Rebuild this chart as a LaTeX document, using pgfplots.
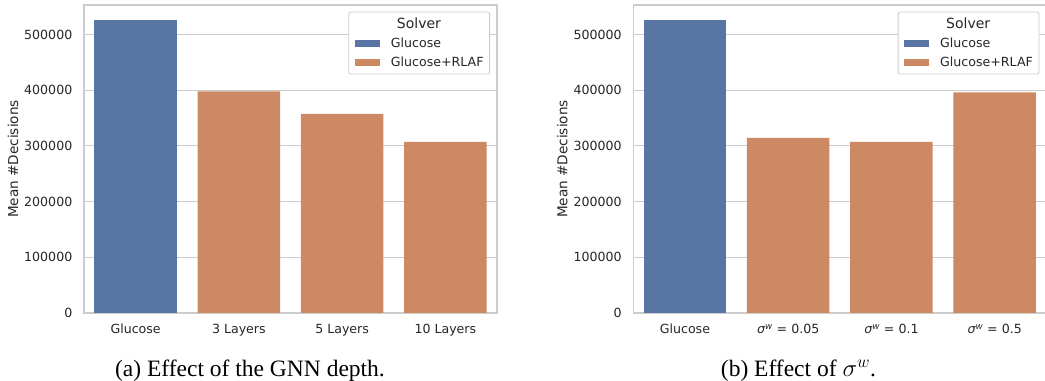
\documentclass[border=0pt]{standalone}
\usepackage{pgfplots}
\pgfplotsset{compat=1.18}
\usepackage{fontspec}
\setmainfont{DejaVu Sans}
\newfontfamily\capfont{Liberation Serif}
\definecolor{cblue}{HTML}{5975A4}
\definecolor{corange}{HTML}{CC8963}
\definecolor{gridc}{HTML}{CCCCCC}
\definecolor{txt}{HTML}{262626}
\pgfplotsset{
  myax/.style={
    scale only axis, width=413bp, height=308bp,
    anchor=south west,
    xmin=-0.5, xmax=3.5, ymin=0, ymax=553000,
    xtick={0,1,2,3},
    ytick={0,100000,200000,300000,400000,500000},
    yticklabels={0,100000,200000,300000,400000,500000},
    scaled y ticks=false,
    ymajorgrids, grid style={gridc, line width=1bp},
    axis line style={gridc, line width=1.25bp},
    major tick length=0pt,
    tick label style={font=\fontsize{12.6bp}{14bp}\selectfont, text=txt},
    yticklabel style={inner sep=0pt, xshift=-11.5bp},
    xticklabel style={inner sep=0pt, text height=9.5bp, text depth=2.5bp, anchor=north, yshift=-11bp},
    ylabel={Mean \#Decisions},
    ylabel style={font=\fontsize{13.6bp}{15bp}\selectfont, text=txt, at={([xshift=-71bp]axis description cs:0,0.5)}, anchor=center, inner sep=0pt},
    legend image code/.code={\fill[##1, sharp corners] (0bp,-3bp) rectangle (24.3bp,3bp);},
    legend cell align=left,
    legend style={at={(1,1)}, anchor=north east, xshift=-7bp, yshift=-6.7bp,
      draw=gridc, line width=0.8bp, rounded corners=2bp, fill=white,
      font=\fontsize{12.6bp}{14bp}\selectfont, text=txt,
      inner xsep=6bp, inner ysep=5bp, row sep=5bp,
      nodes={inner sep=0pt, text height=11bp, text depth=3bp},
      /tikz/every odd column/.append style={column sep=11bp}},
    mybar/.style={ybar, bar width=0.8, bar shift=0pt, draw=none, forget plot},
  }
}
\begin{document}
\begin{tikzpicture}
\useasboundingbox (0,0) rectangle (1045bp,381bp);
\begin{axis}[myax, at={(84bp,68bp)},
  xticklabels={Glucose, 3 Layers, 5 Layers, 10 Layers}]
  \addplot[mybar, fill=cblue] coordinates {(0,526000)};
  \addplot[mybar, fill=corange] coordinates {(1,397700) (2,357600) (3,307300)};
  \addlegendimage{empty legend}
  \addlegendentry{\hspace{6bp}\fontsize{14bp}{14bp}\selectfont Solver}
  \addlegendimage{cblue}
  \addlegendentry{Glucose}
  \addlegendimage{corange}
  \addlegendentry{Glucose+RLAF}
\end{axis}
\begin{axis}[myax, at={(633.3bp,68bp)},
  xticklabels={Glucose, {{\itshape σ\textsuperscript{w}} = 0.05}, {{\itshape σ\textsuperscript{w}} = 0.1}, {{\itshape σ\textsuperscript{w}} = 0.5}}]
  \addplot[mybar, fill=cblue] coordinates {(0,526000)};
  \addplot[mybar, fill=corange] coordinates {(1,314500) (2,307300) (3,396000)};
  \addlegendimage{empty legend}
  \addlegendentry{\hspace{6bp}\fontsize{14bp}{14bp}\selectfont Solver}
  \addlegendimage{cblue}
  \addlegendentry{Glucose}
  \addlegendimage{corange}
  \addlegendentry{Glucose+RLAF}
\end{axis}
\node[anchor=base, inner sep=0pt, font=\capfont\fontsize{23.5bp}{26bp}\selectfont] at (250bp,4.3bp) {(a) Effect of the GNN depth.};
\node[anchor=base, inner sep=0pt, font=\capfont\fontsize{23.5bp}{26bp}\selectfont] at (798.5bp,4.3bp) {(b) Effect of $\sigma^w$.};
\end{tikzpicture}
\end{document}
